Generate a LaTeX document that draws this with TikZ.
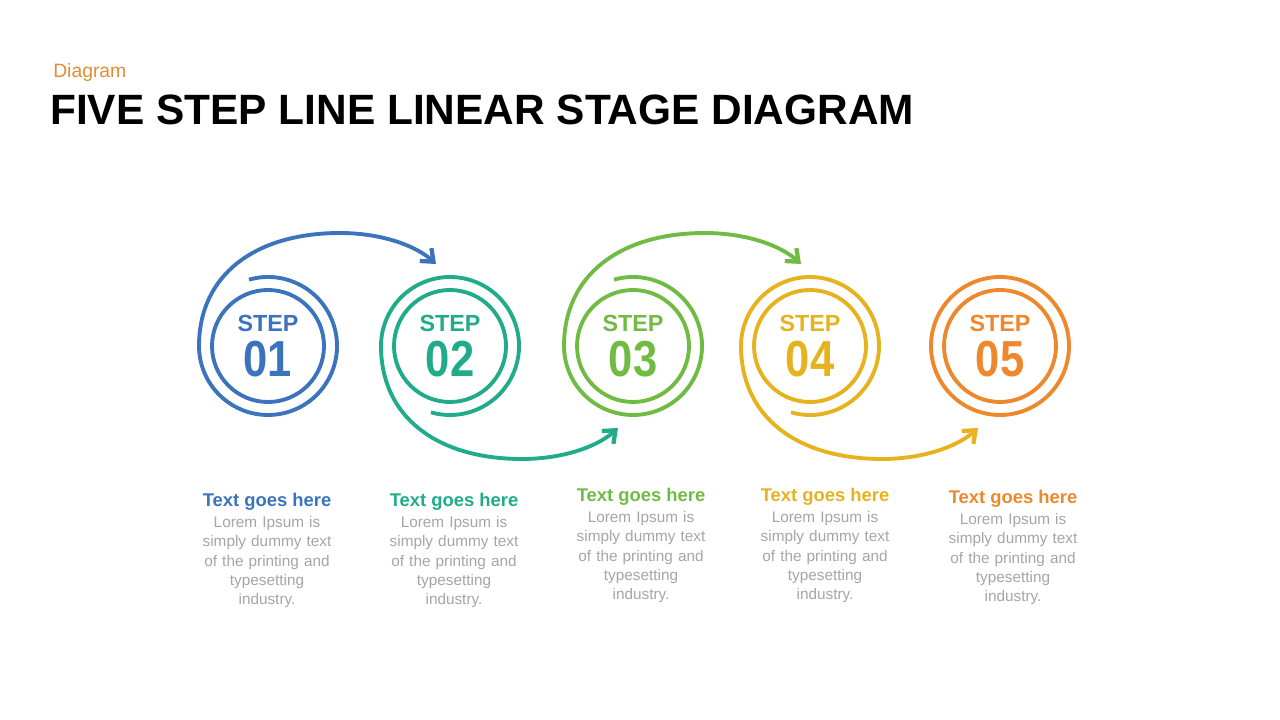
\documentclass[tikz,border=0pt]{standalone}
\usepackage{fontspec}
\setmainfont{Liberation Sans}
\newfontfamily\narrowsans[FakeStretch=0.86]{Liberation Sans}
\usetikzlibrary{positioning,arrows.meta}
\definecolor{stepblue}{RGB}{59,115,189}
\definecolor{stepteal}{RGB}{32,172,138}
\definecolor{stepgreen}{RGB}{112,187,68}
\definecolor{stepyellow}{RGB}{230,178,30}
\definecolor{steporange}{RGB}{238,136,44}
\definecolor{bodygray}{RGB}{165,165,165}
\definecolor{tagorange}{RGB}{226,140,52}
\tikzset{ring/.style={circle,draw,line width=2.9pt,minimum size=84pt,inner sep=0pt},
         outring/.style={circle,draw,line width=2.9pt,minimum size=103.5pt,inner sep=0pt},
         swirl/.style={line width=2.9pt,-{Straight Barb[length=8pt,width=13pt,line width=3.2pt]}},
         steplabel/.style={font=\bfseries\fontsize{17.5}{18}\selectfont,inner sep=0pt},
         stepnum/.style={font=\narrowsans\bfseries\fontsize{38}{40}\selectfont,inner sep=0pt},
         head/.style={font=\bfseries\fontsize{13.8}{15}\selectfont,inner sep=0pt,anchor=base},
         body/.style={font=\fontsize{11.5}{14.3}\selectfont,text=bodygray,text width=110pt,align=center,inner sep=0pt}
     }
\begin{document}
\begin{tikzpicture}[x=0.75pt,y=0.75pt]
\useasboundingbox (0,0) rectangle (1280,720);
\node[anchor=base west,inner sep=0pt,text=tagorange,font=\fontsize{14.5}{16}\selectfont] (tag) at (53,642) {Diagram};
\node[anchor=base west,inner sep=0pt,font=\bfseries\fontsize{31.8}{36}\selectfont] (title) at (50,595) {FIVE STEP LINE LINEAR STAGE DIAGRAM};

% rings and step numbers
\foreach \n/\x/\c in {1/268/stepblue,2/450/stepteal,3/633/stepgreen,4/810/stepyellow,5/1000/steporange}{
  \node[ring,draw=\c] (o\n) at (\x,374) {};
  \node[steplabel,text=\c] (s\n) at (\x,397) {STEP};
  \node[stepnum,text=\c] (n\n) at (\x,361) {0\n};
}
\node[outring,draw=steporange] (r5) at (o5) {};

% swirls from one step to the next
\foreach \x/\c/\f in {268/stepblue/1,450/stepteal/-1,633/stepgreen/1,810/stepyellow/-1}{
  \begin{scope}[shift={(\x,374)},yscale=\f]
  \draw[swirl,draw=\c] (106:69) arc[start angle=106,end angle=-180,radius=69]
     .. controls (-69,71) and (-13,113) .. (72,113)
     .. controls (112,113) and (147,101) .. (168,82);
  \end{scope}
}

% texts
\node[head,text=stepblue] (h1) at (267,213) {Text goes here};
\node[body,below=4pt of h1] (b1) {Lorem Ipsum is\\simply dummy text\\of the printing and\\typesetting\\industry.};
\node[head,text=stepteal] (h2) at (454,213) {Text goes here};
\node[body,below=4pt of h2] (b2) {Lorem Ipsum is\\simply dummy text\\of the printing and\\typesetting\\industry.};
\node[head,text=stepgreen] (h3) at (641,218) {Text goes here};
\node[body,below=4pt of h3] (b3) {Lorem Ipsum is\\simply dummy text\\of the printing and\\typesetting\\industry.};
\node[head,text=stepyellow] (h4) at (825,218) {Text goes here};
\node[body,below=4pt of h4] (b4) {Lorem Ipsum is\\simply dummy text\\of the printing and\\typesetting\\industry.};
\node[head,text=steporange] (h5) at (1013,216) {Text goes here};
\node[body,below=4pt of h5] (b5) {Lorem Ipsum is\\simply dummy text\\of the printing and\\typesetting\\industry.};
\end{tikzpicture}
\end{document}
